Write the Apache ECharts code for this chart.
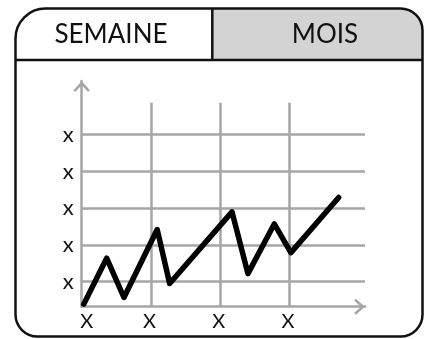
<!DOCTYPE html>
<html>
<head>
<meta charset="utf-8">
<script src="https://cdn.jsdelivr.net/npm/echarts@6/dist/echarts.min.js"></script>
<style>
  html, body { margin: 0; padding: 0; background: #fff; }
  #chart { width: 425px; height: 339px; }
</style>
</head>
<body>
<div id="chart"></div>
<script>
// Tabs shown above the chart
const tabLabels = ['SEMAINE', 'MOIS'];

// Tick labels and where they sit on each axis
const xTickValues = [0, 1, 2, 3];
const xTickLabels = ['X', 'X', 'X', 'X'];
const yTickValues = [1, 2, 3, 4, 5];
const yTickLabels = ['x', 'x', 'x', 'x', 'x'];

// The zigzag series
const xValues = [0.03, 0.36, 0.61, 1.09, 1.27, 2.17, 2.40, 2.78, 3.02, 3.71];
const yValues = [0.39, 1.64, 0.57, 2.42, 0.95, 2.90, 1.22, 2.57, 1.79, 3.29];

// Axis ranges
const xRange = [0, 4.09];
const yRange = [0.32, 6.46];

const GRID_GRAY = '#a6a6a6';
const INK = '#111';
const FONT = 'Lato, "Noto Sans", sans-serif';

// Open chevron used as the arrow head on both axes
const chevron = 'path://M8,0 L16,9 L14.3,10.8 L8,4 L1.7,10.8 L0,9 Z';

const seriesData = xValues.map((x, i) => [x, yValues[i]]);

const chart = echarts.init(document.getElementById('chart'), null, { renderer: 'canvas' });

chart.setOption({
  animation: false,
  backgroundColor: '#fff',
  grid: [
    { left: 81.7, right: 60, top: 81, bottom: 32.3, containLabel: false },
    { left: 81.7, right: 60, top: 102.7, bottom: 32.3, containLabel: false }
  ],
  xAxis: [
    {
      type: 'value', gridIndex: 0, min: xRange[0], max: xRange[1],
      axisLine: {
        show: true,
        lineStyle: { color: GRID_GRAY, width: 2.5 },
        symbol: ['none', chevron],
        symbolSize: [16, 11],
        symbolOffset: [0, -5.5]
      },
      axisTick: { show: false, customValues: xTickValues },
      splitLine: { show: false },
      axisLabel: {
        customValues: xTickValues,
        margin: 5,
        formatter: (val) => {
          const i = xTickValues.indexOf(Math.round(val));
          return i === 0 ? '{first|' + xTickLabels[i] + '}' : '{rest|' + xTickLabels[i] + '}';
        },
        rich: {
          first: { fontSize: 20, fontFamily: FONT, color: INK, padding: [0, 0, 0, 10] },
          rest: { fontSize: 20, fontFamily: FONT, color: INK, padding: [0, 3, 0, 0] }
        }
      }
    },
    {
      // vertical guide lines, which stop short of the y-axis arrow
      type: 'value', gridIndex: 1, min: xRange[0], max: xRange[1],
      axisLine: { show: false },
      axisTick: { show: false, customValues: [1, 2, 3] },
      axisLabel: { show: false },
      splitLine: { show: true, lineStyle: { color: GRID_GRAY, width: 2.5 } }
    }
  ],
  yAxis: [
    {
      type: 'value', gridIndex: 0, min: yRange[0], max: yRange[1],
      axisLine: {
        show: true,
        lineStyle: { color: GRID_GRAY, width: 2.5 },
        symbol: ['none', chevron],
        symbolSize: [18, 11],
        symbolOffset: [0, -5.5]
      },
      axisTick: { show: false, customValues: yTickValues },
      splitLine: { show: true, lineStyle: { color: GRID_GRAY, width: 2.5 } },
      axisLabel: {
        customValues: yTickValues,
        margin: 8,
        fontSize: 22,
        fontFamily: FONT,
        color: INK,
        padding: [3, 0, 0, 0],
        formatter: (val) => yTickLabels[yTickValues.indexOf(Math.round(val))]
      }
    },
    {
      type: 'value', gridIndex: 1, min: yRange[0], max: yRange[1],
      show: false
    }
  ],
  series: [
    {
      type: 'line',
      xAxisIndex: 0,
      yAxisIndex: 0,
      data: seriesData,
      showSymbol: false,
      symbol: 'none',
      lineStyle: { color: '#000', width: 5.5, cap: 'round', join: 'round' },
      z: 5
    }
  ],
  graphic: [
    {
      type: 'rect', z: 1,
      shape: { x: 212.3, y: 8.5, width: 210.2, height: 51.5, r: [0, 22, 0, 0] },
      style: { fill: '#d3d3d3' }
    },
    {
      type: 'rect', z: 2,
      shape: { x: 15.5, y: 8.5, width: 407, height: 328, r: [30, 22, 22, 22] },
      style: { fill: 'none', stroke: INK, lineWidth: 2.5 }
    },
    {
      type: 'line', z: 2,
      shape: { x1: 15.5, y1: 60, x2: 422.5, y2: 60 },
      style: { stroke: INK, lineWidth: 2.5 }
    },
    {
      type: 'line', z: 2,
      shape: { x1: 212.3, y1: 8.5, x2: 212.3, y2: 60 },
      style: { stroke: INK, lineWidth: 2.5 }
    },
    {
      type: 'text', z: 3, x: 111, y: 35,
      style: { text: tabLabels[0], font: '26px ' + FONT, fill: INK, textAlign: 'center', textVerticalAlign: 'middle' }
    },
    {
      type: 'text', z: 3, x: 325, y: 35,
      style: { text: tabLabels[1], font: '26px ' + FONT, fill: INK, textAlign: 'center', textVerticalAlign: 'middle' }
    }
  ]
});
</script>
</body>
</html>
